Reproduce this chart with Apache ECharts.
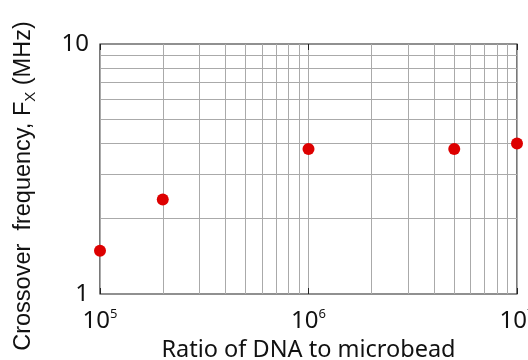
<!DOCTYPE html>
<html>
<head>
<meta charset="utf-8">
<script src="https://cdn.jsdelivr.net/npm/echarts@6/dist/echarts.min.js"></script>
<style>
  html, body { margin: 0; padding: 0; background: #fff; }
  #chart { width: 528px; height: 360px; }
</style>
</head>
<body>
<div id="chart"></div>
<script>
// 数据
var ratio = [1e5, 2e5, 1e6, 5e6, 1e7];
var crossover = [1.49, 2.39, 3.8, 3.8, 4.0];

// 刻度
var xMin = 1e5, xMax = 1e7;
var yMin = 1, yMax = 10;
var xMinorGrid = [2e5, 3e5, 4e5, 5e5, 6e5, 7e5, 8e5, 9e5, 2e6, 3e6, 4e6, 5e6, 6e6, 7e6, 8e6, 9e6];
var yMinorGrid = [2, 3, 4, 5, 6, 7, 8, 9];

var chart = echarts.init(document.getElementById('chart'));

var points = ratio.map(function(r, i) { return [r, crossover[i]]; });
var gridLines = xMinorGrid.map(function(v) { return { xAxis: v }; })
  .concat(yMinorGrid.map(function(v) { return { yAxis: v }; }));

var tickFont = 'Noto Sans';

var option = {
  animation: false,
  grid: {
    left: 100, right: 11, top: 44, bottom: 66,
    outerBoundsMode: 'none',
    containLabel: false,
    show: true,
    borderColor: '#222',
    borderWidth: 1.2
  },
  xAxis: [{
    type: 'log',
    logBase: 10,
    min: xMin,
    max: xMax,
    name: 'Ratio of DNA to microbead',
    nameLocation: 'middle',
    nameGap: 33,
    nameTextStyle: { fontFamily: tickFont, fontSize: 23.5, color: '#111' },
    axisLine: { show: false },
    axisTick: { show: true, inside: true, length: 6, lineStyle: { color: '#222' } },
    splitLine: { show: true, lineStyle: { color: '#aaa', width: 1 } },
    axisLabel: {
      margin: 14,
      color: '#111',
      formatter: function(v) {
        return '{b|10}{s|' + Math.round(Math.log10(v)) + '}';
      },
      rich: {
        b: { fontFamily: tickFont, fontSize: 24, color: '#111', lineHeight: 27 },
        s: { fontFamily: tickFont, fontSize: 13, color: '#111', verticalAlign: 'top', lineHeight: 13 }
      }
    }
  }, {
    type: 'log',
    logBase: 10,
    min: xMin,
    max: xMax,
    position: 'top',
    axisLine: { show: false },
    axisTick: { show: true, inside: true, length: 6, lineStyle: { color: '#222' } },
    axisLabel: { show: false },
    splitLine: { show: false }
  }],
  yAxis: {
    type: 'log',
    logBase: 10,
    min: yMin,
    max: yMax,
    name: 'Crossover  frequency, F{sub|X} (MHz)',
    nameLocation: 'middle',
    nameGap: 62,
    nameTextStyle: {
      fontFamily: 'Liberation Sans', fontSize: 23.5, color: '#111',
      padding: [0, 34, 0, 0],
      rich: {
        sub: { fontFamily: 'Liberation Sans', fontSize: 15, color: '#111', padding: [14, 0, 0, 0] }
      }
    },
    axisLine: { show: false },
    axisTick: { show: false },
    splitLine: { show: false },
    axisLabel: {
      margin: 11,
      fontFamily: tickFont,
      fontSize: 24,
      color: '#111'
    }
  },
  series: [{
    type: 'scatter',
    xAxisIndex: 0,
    data: points,
    symbol: 'circle',
    symbolSize: 12,
    z: 3,
    itemStyle: { color: '#dd0000', opacity: 1 },
    markLine: {
      silent: true,
      z: 1,
      symbol: ['none', 'none'],
      label: { show: false },
      lineStyle: { color: '#aaa', width: 1, type: 'solid' },
      data: gridLines
    }
  }]
};

chart.setOption(option);
</script>
</body>
</html>
